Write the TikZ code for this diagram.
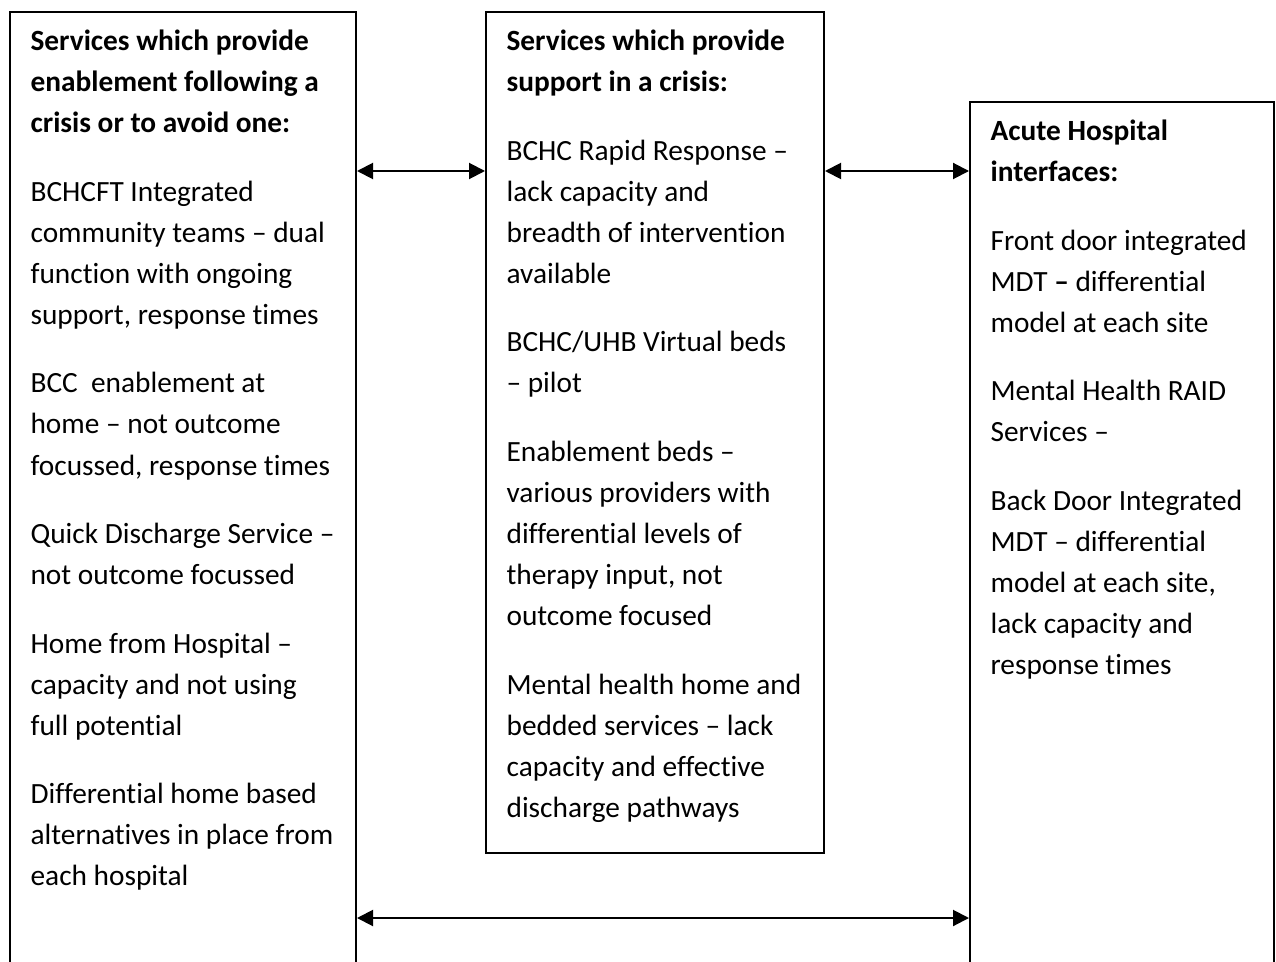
\documentclass[tikz,border=0pt]{standalone}
\usepackage{fontspec}
\setmainfont{Carlito}[Ligatures={TeX,NoCommon}]
\usepackage{tikz}
\usetikzlibrary{arrows.meta, positioning}
\tikzstyle{column} = [draw, line width=0.75pt, anchor=north west, inner sep=0pt]
\tikzstyle{coltext} = [inner sep=0pt, align=left, font=\fontsize{11}{15.4}\selectfont]
\tikzstyle{twoway} = [{Triangle[length=6pt,width=6pt]}-{Triangle[length=6pt,width=6pt]}, line width=0.75pt]

\begin{document}
\begin{tikzpicture}[x=0.375pt, y=-0.375pt]
    \useasboundingbox (0,0) rectangle (1276,962);

    % the three columns
    \node[column, minimum width=129.75pt, minimum height=420pt] (lbox) at (9,11) {};
    \node[column, minimum width=126.75pt, minimum height=315.4pt] (mbox) at (485,11) {};
    \node[column, minimum width=114pt, minimum height=400pt] (rbox) at (969,101) {};

    % left column
    \node[coltext, below right=6.9pt and 7.9pt of lbox.north west] (ltext)
        {\textbf{Services which provide}\\
         \textbf{enablement following a}\\
         \textbf{crisis or to avoid one:}\\[10.3pt]
         BCHCFT Integrated\\
         community teams -- dual\\
         function with ongoing\\
         support, response times\\[10.3pt]
         BCC\ \ enablement at\\
         home -- not outcome\\
         focussed, response times\\[10.3pt]
         Quick Discharge Service --\\
         not outcome focussed\\[10.3pt]
         Home from Hospital --\\
         capacity and not using\\
         full potential\\[10.3pt]
         Differential home based\\
         alternatives in place from\\
         each hospital};

    % middle column
    \node[coltext, below right=6.9pt and 7.9pt of mbox.north west] (mtext)
        {\textbf{Services which provide}\\
         \textbf{support in a crisis:}\\[10.3pt]
         BCHC Rapid Response --\\
         lack capacity and\\
         breadth of intervention\\
         available\\[10.3pt]
         BCHC/UHB Virtual beds\\
         -- pilot\\[10.3pt]
         Enablement beds --\\
         various providers with\\
         differential levels of\\
         therapy input, not\\
         outcome focused\\[10.3pt]
         Mental health home and\\
         bedded services -- lack\\
         capacity and effective\\
         discharge pathways};

    % right column
    \node[coltext, below right=6.9pt and 7.9pt of rbox.north west] (rtext)
        {\textbf{Acute Hospital}\\
         \textbf{interfaces:}\\[10.3pt]
         Front door integrated\\
         MDT \textbf{--} differential\\
         model at each site\\[10.3pt]
         Mental Health RAID\\
         Services --\\[10.3pt]
         Back Door Integrated\\
         MDT -- differential\\
         model at each site,\\
         lack capacity and\\
         response times};

    % links
    \draw[twoway] (lbox.east |- 0,171) -- (mbox.west |- 0,171);
    \draw[twoway] (mbox.east |- 0,171) -- (rbox.west |- 0,171);
    \draw[twoway] (lbox.east |- 0,918) -- (rbox.west |- 0,918);
\end{tikzpicture}
\end{document}
